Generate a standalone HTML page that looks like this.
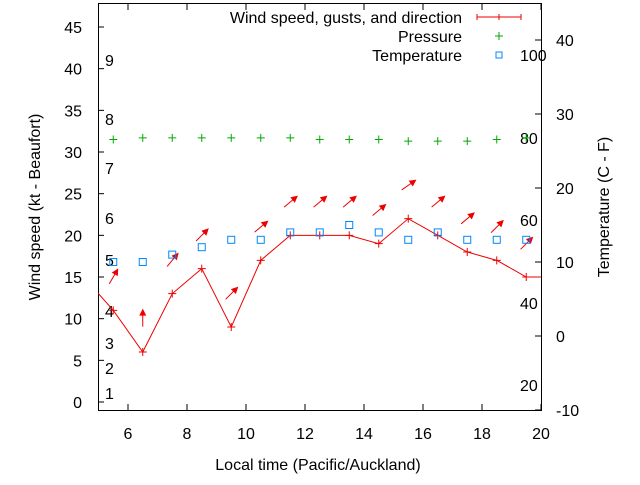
<!DOCTYPE html>
<html><head><meta charset="utf-8"><style>
body{margin:0;background:#fff}
svg text{font-family:"Liberation Sans",sans-serif;font-size:16px;fill:#000}
</style></head><body>
<svg id="c" width="640" height="480" xmlns="http://www.w3.org/2000/svg">
<defs><clipPath id="clip"><rect x="98" y="4" width="443" height="406"/></clipPath></defs>
<rect x="98.5" y="3.5" width="443" height="407" fill="none" stroke="#000"/>
<g id="axes"></g>
<g id="series" clip-path="url(#clip)"></g>
<text x="318" y="470" text-anchor="middle">Local time (Pacific/Auckland)</text>
<text transform="translate(40,207) rotate(-90)" text-anchor="middle">Wind speed (kt - Beaufort)</text>
<text transform="translate(609,207) rotate(-90)" text-anchor="middle">Temperature (C - F)</text>
<g>
<text x="462" y="23" text-anchor="end">Wind speed, gusts, and direction</text>
<path d="M477,17H521M477,14v6M499,14v6M521,14v6" stroke="#e00"/>
<text x="462" y="42" text-anchor="end">Pressure</text>
<path d="M495,36h8M499,32v8" stroke="#0a0"/>
<text x="462" y="61" text-anchor="end">Temperature</text>
<rect x="496" y="52" width="6" height="6" fill="none" stroke="#08f"/>
</g>
</svg>
<script>
const hours=[5.5,6.5,7.5,8.5,9.5,10.5,11.5,12.5,13.5,14.5,15.5,16.5,17.5,18.5,19.5];
const wind=[11,6,13,16,9,17,20,20,20,19,22,20,18,17,15];
const windEdge=[15,15];
const gusts=[15,10,17,20,13,21,24,24,24,23,26,24,22,21,19];
const dirs=[60,90,50,45,45,40,40,40,40,40,35,40,40,45,45];
const pressure=[31.5,31.7,31.7,31.7,31.7,31.7,31.7,31.5,31.5,31.5,31.3,31.3,31.3,31.5,31.7];
const tempC=[10,10,11,12,13,13,14,14,15,14,13,14,13,13,13];
const xTicks=[6,8,10,12,14,16,18,20];
const yTicks=[0,5,10,15,20,25,30,35,40,45];
const y2Ticks=[-10,0,10,20,30,40];
const beaufort=[[1,393],[2,368],[3,343],[4,311],[5,260],[6,218],[7,168],[8,119],[9,60]];
const fLabels=[[20,385],[40,303],[60,220],[80,138],[100,55]];
const NS="http://www.w3.org/2000/svg";
const X=h=>98.5+(h-5)*29.5;
const Y=v=>402-v*8.333;
const Y2=c=>336-c*7.4;
const ax=document.getElementById('axes'),se=document.getElementById('series');
function mk(p,tag,at){const e=document.createElementNS(NS,tag);for(const k in at)e.setAttribute(k,at[k]);p.appendChild(e);return e;}
xTicks.forEach(t=>{const x=X(t);
 const l=mk(ax,'path',{d:`M${x},410V404M${x},4V10`,stroke:'#000'});
 
 
 const tx=mk(ax,'text',{x:x,y:439,'text-anchor':'middle'});tx.textContent=t;
 
 });
yTicks.forEach(t=>{const y=Y(t);
 const l=mk(ax,'path',{d:`M98,${y}H104`,stroke:'#000'});
 
 
 const tx=mk(ax,'text',{x:82,y:y+6,'text-anchor':'end'});tx.textContent=t;
 
 });
y2Ticks.forEach(t=>{const y=Y2(t);
 const l=mk(ax,'path',{d:`M541,${y}H535`,stroke:'#000'});
 
 
 const tx=mk(ax,'text',{x:556,y:y+6});tx.textContent=t;
 
 });
beaufort.forEach(b=>{const tx=mk(ax,'text',{x:105,y:b[1]+6});tx.textContent=b[0];
 
 });
fLabels.forEach(b=>{const tx=mk(ax,'text',{x:520,y:b[1]+6});tx.textContent=b[0];
 
 });
let pts=[[X(4.5),Y(windEdge[0])]].concat(hours.map((h,i)=>[X(h),Y(wind[i])])).concat([[X(20.5),Y(windEdge[1])]]);
const line=mk(se,'polyline',{points:pts.map(p=>p.join(',')).join(' '),fill:'none',stroke:'#e00'});


hours.forEach((h,i)=>{const x=X(h),y=Y(wind[i]);
 const m=mk(se,'path',{d:`M${x-4},${y}h8M${x},${y-4}v8`,stroke:'#e00'});
 
 
 const gy=Y(gusts[i]),a=dirs[i]*Math.PI/180,L=8,dx=Math.cos(a)*L,dy=-Math.sin(a)*L;
 const x1=x-dx,y1=gy-dy,x2=x+dx,y2=gy+dy;
 const ar=mk(se,'g',{});
 
 
 mk(ar,'line',{x1:x1,y1:y1,x2:x2,y2:y2,stroke:'#e00'});
 const ux=dx/L,uy=dy/L,px=-uy,py=ux;
 mk(ar,'polygon',{points:`${x2+ux*2},${y2+uy*2} ${x2-ux*5+px*3.5},${y2-uy*5+py*3.5} ${x2-ux*5-px*3.5},${y2-uy*5-py*3.5}`,fill:'#e00'});
 const py0=Y(pressure[i]);
 const p=mk(se,'path',{d:`M${x-4},${py0}h8M${x},${py0-4}v8`,stroke:'#0a0'});
 
 
 const ty=Y2(tempC[i]);
 const s=mk(se,'rect',{x:x-3.5,y:ty-3.5,width:7,height:7,fill:'none',stroke:'#08f'});
 
 });
</script>
</body></html>
